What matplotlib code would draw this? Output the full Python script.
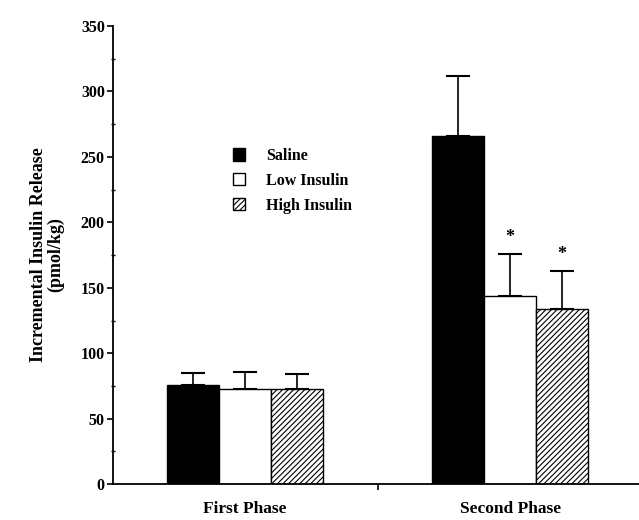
import matplotlib
matplotlib.use("Agg")
import matplotlib.pyplot as plt
from matplotlib.ticker import MultipleLocator
import numpy as np

plt.rcParams['font.family'] = ['Liberation Serif', 'DejaVu Serif']
plt.rcParams['font.weight'] = 'bold'
plt.rcParams['axes.labelweight'] = 'bold'
plt.rcParams['hatch.linewidth'] = 0.8

# data
phases = ["First Phase", "Second Phase"]
groups = ["Saline", "Low Insulin", "High Insulin"]
saline = [76, 266]
saline_err = [9, 46]
low_insulin = [73, 144]
low_insulin_err = [13, 32]
high_insulin = [73, 134]
high_insulin_err = [11, 29]
significant = [[False, False], [False, True], [False, True]]

fig = plt.figure(figsize=(6.39, 5.2), dpi=100)
ax = fig.add_axes([0.177, 0.069, 0.823, 0.881])

centers = np.array([0.0, 5.1])
styles = [dict(color="black", edgecolor="black"),
          dict(color="white", edgecolor="black"),
          dict(color="white", edgecolor="black", hatch="//////")]
series = [(saline, saline_err), (low_insulin, low_insulin_err), (high_insulin, high_insulin_err)]

handles = []
for i, ((vals, errs), st) in enumerate(zip(series, styles)):
    x = centers + (i - 1)
    b = ax.bar(x, vals, width=1.0, linewidth=1.0, label=groups[i], zorder=2, **st)
    handles.append(b)
    ax.errorbar(x, vals, yerr=[np.zeros(len(errs)), errs], fmt="none",
                ecolor="black", elinewidth=1.2, capsize=8.5, capthick=1.5, zorder=1)
    for j in range(len(vals)):
        if significant[i][j]:
            ax.text(x[j], vals[j] + errs[j] + 6, "*", ha="center", va="bottom",
                    fontsize=13)

ax.set_xlim(-2.54, 7.58)
ax.set_ylim(0, 350)
ax.yaxis.set_major_locator(MultipleLocator(50))
ax.yaxis.set_minor_locator(MultipleLocator(25))
ax.set_xticks([2.55])
ax.set_xticklabels([""])
for c, name in zip(centers, phases):
    ax.text(c, -19, name, ha="center", va="center", fontsize=12.5, clip_on=False)

ax.spines['top'].set_visible(False)
ax.spines['right'].set_visible(False)
ax.spines['left'].set_linewidth(1.3)
ax.spines['bottom'].set_linewidth(1.3)
ax.tick_params(axis='y', which='major', direction='out', length=4, width=1.2,
               labelsize=11.5, pad=2)
ax.tick_params(axis='y', which='minor', direction='inout', length=3, width=1.0)
ax.tick_params(axis='x', direction='out', length=4, width=1.2)

ax.set_ylabel("Incremental Insulin Release\n(pmol/kg)", fontsize=13, labelpad=12,
              linespacing=1.0)

ax.legend(handles=handles, labels=groups, loc="upper left",
          bbox_to_anchor=(0.2, 0.765), frameon=False, fontsize=11.5,
          handlelength=0.8, handleheight=0.8, handletextpad=1.3, labelspacing=0.55)

fig.savefig("out.png", dpi=100)
